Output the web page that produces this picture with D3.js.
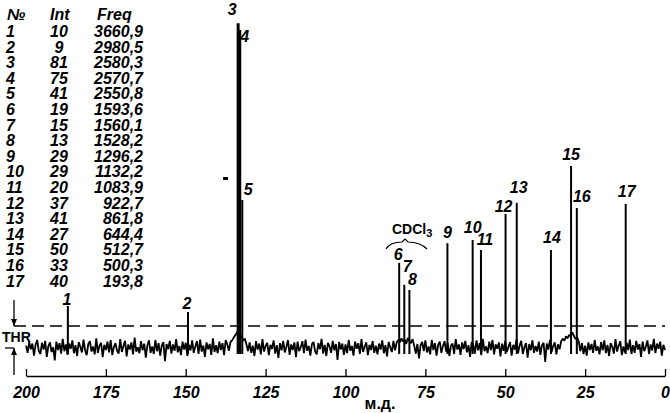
<!DOCTYPE html>
<html><head><meta charset="utf-8">
<script src="https://cdn.jsdelivr.net/npm/d3@7"></script>
<style>body{margin:0;background:#fff}svg{display:block}</style>
</head><body>
<svg id="c" width="670" height="413"></svg>
<script>
// ---- data ----
const peakNo   = [1,2,3,4,5,6,7,8,9,10,11,12,13,14,15,16,17];
const peakInt  = [10,9,81,75,41,19,15,13,29,29,20,37,41,27,50,33,40];
const peakFreq = ["3660,9","2980,5","2580,3","2570,7","2550,8","1593,6","1560,1","1528,2","1296,2","1132,2","1083,9","922,7","861,8","644,4","512,7","500,3","193,8"];
const peakPpm  = [186.9,149.3,133.6,133.1,132.3,83.2,81.6,80.0,68.1,60.2,57.6,49.9,46.4,35.7,29.4,27.6,12.3];
const peakHeight = [10.5,9.0,81.2,79.5,37.0,21.3,15.8,14.5,26.2,27.0,24.5,33.5,36.3,24.5,45.5,35.0,36.0];
const ppmTicks = [200,175,150,125,100,75,50,25,0];
const thrLevel = 5.5;
// baseline noise, one value per 0.5 ppm from 200 down to 0 (estimated from the trace)
const noise = [
 0.6,-1.2,1.5,-0.3,1.1,-1.9,0.8,2.0,-0.7,-1.5,1.3,-0.4,1.8,-2.2,0.5,1.4,-1.0,0.2,-3.1,1.6,
 -0.5,1.2,-1.4,2.3,-0.8,0.9,-1.7,1.1,-0.2,1.9,-1.3,0.7,-2.0,1.5,0.3,-1.1,2.1,-0.6,-1.8,1.0,
 1.7,-0.9,0.4,-1.6,2.4,-1.2,0.6,1.3,-2.3,0.8,-0.5,1.6,-1.1,2.0,-1.8,0.3,1.2,-0.7,-1.4,2.2,
 -1.0,0.5,1.8,-2.1,0.9,-0.4,1.4,-1.6,2.6,-0.9,0.2,-1.3,1.7,-0.6,1.1,-2.4,0.7,1.9,-1.2,0.4,
 -1.5,2.0,-0.8,1.2,-1.9,0.6,1.5,-3.3,1.0,-0.3,1.8,-1.4,0.9,-0.7,2.2,-1.1,0.5,-1.8,1.6,-0.4,
 1.3,-2.0,0.8,-0.6,1.9,-1.2,0.4,1.7,-1.5,2.1,-0.9,0.6,-2.2,1.4,-0.3,1.0,-1.7,2.4,-1.0,0.7,
 -1.3,1.6,-0.5,1.2,-1.8,2.0,0.9,-0.7,1.5,1.9,2.6,3.2,3.8,4.5,3.6,2.7,1.8,2.4,0.9,-0.8,
 1.4,-1.2,0.6,-2.0,1.7,-0.4,1.1,-1.6,2.2,-0.9,0.5,1.3,-1.8,0.8,-0.2,1.9,-1.4,0.7,-2.5,1.2,
 -0.6,1.8,-1.1,0.3,2.0,-1.7,0.9,-0.5,1.4,-2.3,1.6,-0.8,0.2,1.7,-1.3,2.1,-0.7,0.5,-1.9,1.0,
 1.5,-0.9,-1.6,1.2,-0.3,2.3,-1.4,0.8,-2.0,1.3,0.4,-1.2,1.8,-0.6,1.0,-3.0,1.5,-0.4,1.1,-1.7,
 0.9,-1.3,2.0,-0.7,0.5,-1.9,1.6,-0.2,1.2,-1.5,2.2,-1.0,0.3,1.4,-1.8,0.8,-0.5,1.7,-1.2,0.6,
 -1.6,1.1,-0.4,1.9,-1.3,0.7,-2.1,1.5,0.2,-1.0,1.8,-0.6,1.3,2.0,1.4,2.4,1.6,2.1,1.0,2.5,
 1.8,1.2,2.2,0.6,-1.4,1.0,-2.6,0.7,1.5,-0.8,1.9,-1.1,0.4,-1.6,2.0,-0.5,1.2,-1.9,0.8,1.6,
 -1.2,0.5,1.7,-0.9,1.3,-2.0,0.6,1.1,-1.5,2.2,-0.4,0.9,-1.7,1.4,-0.3,1.8,-1.1,0.7,-2.2,1.5,
 0.8,-1.4,1.9,-0.6,1.2,-1.8,2.3,-0.8,0.4,-1.3,1.6,-0.5,2.0,-1.6,0.9,-0.2,1.4,-2.1,1.1,-0.7,
 1.7,-1.0,0.3,1.5,-1.9,0.8,-0.4,2.1,-1.3,0.6,1.8,-1.5,0.2,1.2,-2.4,1.0,-0.6,1.9,-1.2,0.5,
 -0.9,1.6,-1.7,0.7,1.3,-3.5,1.1,-0.4,2.0,-1.0,0.5,1.4,-1.6,0.9,-0.3,1.7,2.3,1.8,2.9,2.4,
 3.3,2.8,3.9,3.0,2.2,2.7,1.6,-0.8,1.2,-1.5,0.6,-1.9,1.4,-0.5,1.0,-1.2,2.0,-0.7,0.4,-1.6,
 1.5,-0.6,1.9,-1.3,0.8,-2.0,1.2,0.3,-1.4,2.2,-0.9,0.6,1.7,-1.8,0.4,-1.1,1.3,-0.5,2.1,-1.5,
 0.7,-1.2,1.8,-0.4,1.0,-2.2,1.6,-0.8,0.3,1.9,-1.5,0.9,-0.6,2.3,-1.3,1.1,-0.2,1.6,-1.9,0.8,
 -0.5];
// label layout offsets (px) relative to each peak top
const labelDx = [-1,-1,-6,5,6,-1,3,3,0,0,4,-2,2,1,0,5,1];
const labelDy = [1,3,8,-12,5,3,13,5,5,7,5,2,10,7,6,6,7];

// ---- chart ----
const svg = d3.select("#c");
const x = d3.scaleLinear().domain([200,0]).range([26,665]);
const y = d3.scaleLinear().domain([0,100]).range([348,-52]);
const fontN = "'Liberation Sans Narrow','Liberation Sans',sans-serif";

// threshold dashed line
svg.append("line").attr("x1",14).attr("x2",x(0)).attr("y1",y(thrLevel)).attr("y2",y(thrLevel))
  .attr("stroke","#000").attr("stroke-width",1.3).attr("stroke-dasharray","12,6");

// noise trace
const noiseData = noise.map((v,i)=>({ppm:200-i*0.5, v}));
svg.append("path").datum(noiseData)
  .attr("d", d3.line().x(d=>x(d.ppm)).y(d=>y(d.v)))
  .attr("fill","none").attr("stroke","#000").attr("stroke-width",1.8).attr("stroke-linejoin","bevel");

// peaks
const peaks = peakNo.map((n,i)=>({n, ppm:peakPpm[i], h:peakHeight[i], dx:labelDx[i], dy:labelDy[i]}));
svg.append("g").selectAll("line").data(peaks).join("line")
  .attr("x1",d=>x(d.ppm)).attr("x2",d=>x(d.ppm))
  .attr("y1",y(-1.5)).attr("y2",d=>y(d.h))
  .attr("stroke","#000").attr("stroke-width",d=>d.h>60?3:2);

svg.append("g").selectAll("text").data(peaks).join("text")
  .attr("x",d=>x(d.ppm)+d.dx).attr("y",d=>y(d.h)-d.dy)
  .attr("text-anchor","middle").attr("font-family",fontN).attr("font-style","italic")
  .attr("font-weight","bold").attr("font-size",16).text(d=>d.n);

// CDCl3 label and brace
svg.append("text").attr("x",392).attr("y",234).attr("font-family",fontN).attr("font-weight","bold")
  .attr("font-size",14).text("CDCl").append("tspan").attr("dy",3).attr("font-size",11).text("3");
svg.append("path").attr("d","M386,249 Q390,242 402,242 L405,239 L408,242 Q420,242 427,249")
  .attr("fill","none").attr("stroke","#000").attr("stroke-width",1.2);

// axis
const axis = d3.axisBottom(x).tickValues(ppmTicks).tickSizeInner(-7).tickSizeOuter(0).tickPadding(11)
  .tickFormat(d3.format("d"));
const ag = svg.append("g").attr("transform","translate(0,376)").call(axis);
ag.select(".domain").attr("stroke-width",1.3);
ag.selectAll(".tick line").attr("stroke-width",1.3);
ag.selectAll("text").attr("font-family",fontN).attr("font-style","italic").attr("font-weight","bold")
  .attr("font-size",16);
svg.append("text").attr("x",380).attr("y",409).attr("text-anchor","middle").attr("font-family",fontN)
  .attr("font-weight","bold").attr("font-size",16).text("м.д.");

// THR marker
svg.append("text").attr("x",2).attr("y",342).attr("font-family",fontN).attr("font-weight","bold")
  .attr("font-size",14).text("THR");
const mk = svg.append("g").attr("stroke","#000").attr("stroke-width",1.3);
mk.append("line").attr("x1",14).attr("x2",14).attr("y1",300).attr("y2",y(thrLevel));
mk.append("line").attr("x1",14).attr("x2",14).attr("y1",y(0)).attr("y2",375);
mk.append("line").attr("x1",5).attr("x2",14).attr("y1",y(0)).attr("y2",y(0));
svg.append("path").attr("d",`M11,${y(thrLevel)-7} L17,${y(thrLevel)-7} L14,${y(thrLevel)} Z`).attr("fill","#000");
svg.append("path").attr("d",`M11,${y(0)+7} L17,${y(0)+7} L14,${y(0)} Z`).attr("fill","#000");

// table
const tf = {"font-family":fontN,"font-style":"italic","font-weight":"bold","font-size":16};
const tbl = svg.append("g");
const hdr = [["№",7,"start"],["Int",50,"start"],["Freq",97,"start"]];
hdr.forEach(([t,xx,a])=>{const e=tbl.append("text").attr("x",xx).attr("y",20).attr("text-anchor",a).text(t);
  Object.entries(tf).forEach(([k,v])=>e.attr(k,v));});
const rows = tbl.selectAll("g.r").data(peakNo).join("g").attr("class","r")
  .attr("transform",(d,i)=>`translate(0,${37+i*15.6})`);
rows.append("text").attr("x",6).text(d=>d);
rows.append("text").attr("x",59).attr("text-anchor","middle").text((d,i)=>peakInt[i]);
rows.append("text").attr("x",143).attr("text-anchor","end").text((d,i)=>peakFreq[i]);
rows.selectAll("text").each(function(){const e=d3.select(this);Object.entries(tf).forEach(([k,v])=>e.attr(k,v));});

// stray mark
svg.append("rect").attr("x",223).attr("y",177).attr("width",5).attr("height",3).attr("fill","#000");
</script>
</body></html>
